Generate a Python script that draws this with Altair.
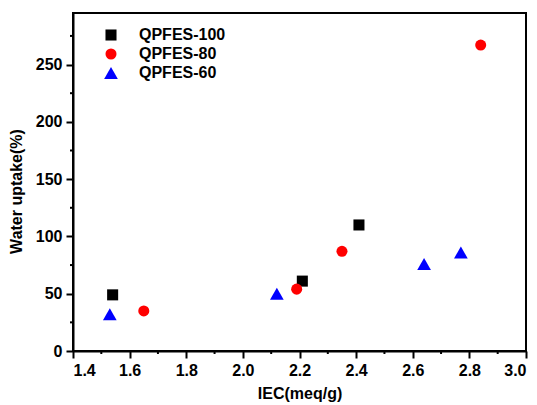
import altair as alt
import pandas as pd

series_names = ["QPFES-100", "QPFES-80", "QPFES-60"]
iec_100 = [1.54, 2.21, 2.41]
wu_100 = [49, 61, 110]
iec_80 = [1.65, 2.19, 2.35, 2.84]
wu_80 = [35, 54, 87, 267]
iec_60 = [1.53, 2.12, 2.64, 2.77]
wu_60 = [32, 50, 76, 86]

x_major = [1.4, 1.6, 1.8, 2.0, 2.2, 2.4, 2.6, 2.8, 3.0]
x_minor = [1.5, 1.7, 1.9, 2.1, 2.3, 2.5, 2.7, 2.9]
y_major = [0, 50, 100, 150, 200, 250]
y_minor = [25, 75, 125, 175, 225, 275]

rows = []
for name, xs, ys in zip(series_names, [iec_100, iec_80, iec_60], [wu_100, wu_80, wu_60]):
    for a, b in zip(xs, ys):
        rows.append({"x": a, "y": b, "series": name})
df = pd.DataFrame(rows)

FONT = "Liberation Sans"
W, H = 453, 338
TRI = "M0,-1.09L1.24,1.09L-1.24,1.09Z"

x_scale = alt.Scale(domain=[1.4, 3.0], nice=False, zero=False)
y_scale = alt.Scale(domain=[0, 295], nice=False)

x_axis = alt.Axis(values=x_major, format=".1f", title="IEC(meq/g)", grid=False,
                  labelPadding=4, titlePadding=7)
y_axis = alt.Axis(values=y_major, format="d", title="Water uptake(%)", grid=False,
                  labelPadding=4, titleX=-49, titleY=178)

leg = alt.Legend(title=None, orient="none", legendX=30, legendY=14,
                 labelOffset=20, rowPadding=3, symbolSize=122)

points = alt.Chart(df).mark_point(filled=True, opacity=1, strokeWidth=0, size=122).encode(
    x=alt.X("x:Q", scale=x_scale, axis=x_axis),
    y=alt.Y("y:Q", scale=y_scale, axis=y_axis),
    color=alt.Color("series:N", scale=alt.Scale(domain=series_names, range=["#000000", "#ff0000", "#0000ff"]),
                    legend=leg),
    shape=alt.Shape("series:N", scale=alt.Scale(domain=series_names, range=["square", "circle", TRI]),
                    legend=leg),
)

xminor = alt.Chart(pd.DataFrame({"x": x_minor})).mark_rule(color="black", strokeWidth=2).encode(
    x=alt.X("x:Q", scale=x_scale, axis=x_axis),
    y=alt.value(H),
    y2=alt.value(H + 3),
)
yminor = alt.Chart(pd.DataFrame({"y": y_minor})).mark_rule(color="black", strokeWidth=2).encode(
    y=alt.Y("y:Q", scale=y_scale, axis=y_axis),
    x=alt.value(0),
    x2=alt.value(-3),
)

chart = alt.layer(points, xminor, yminor).properties(
    width=W, height=H,
    autosize=alt.AutoSizeParams(type="none"),
    padding={"left": 65, "top": 5, "right": 3, "bottom": 52},
).configure_view(
    stroke="black", strokeWidth=2
).configure_axis(
    domainColor="black", domainWidth=2, tickColor="black", tickWidth=2, tickSize=7,
    labelFont=FONT, labelFontSize=16, labelFontWeight="bold", labelColor="black",
    titleFont=FONT, titleFontSize=16, titleFontWeight="bold", titleColor="black",
).configure_legend(
    labelFont=FONT, labelFontSize=16, labelFontWeight="bold", labelColor="black",
    symbolStrokeWidth=0, padding=0,
)

chart.save("out.html", embed_options={"renderer": "svg", "actions": False})
